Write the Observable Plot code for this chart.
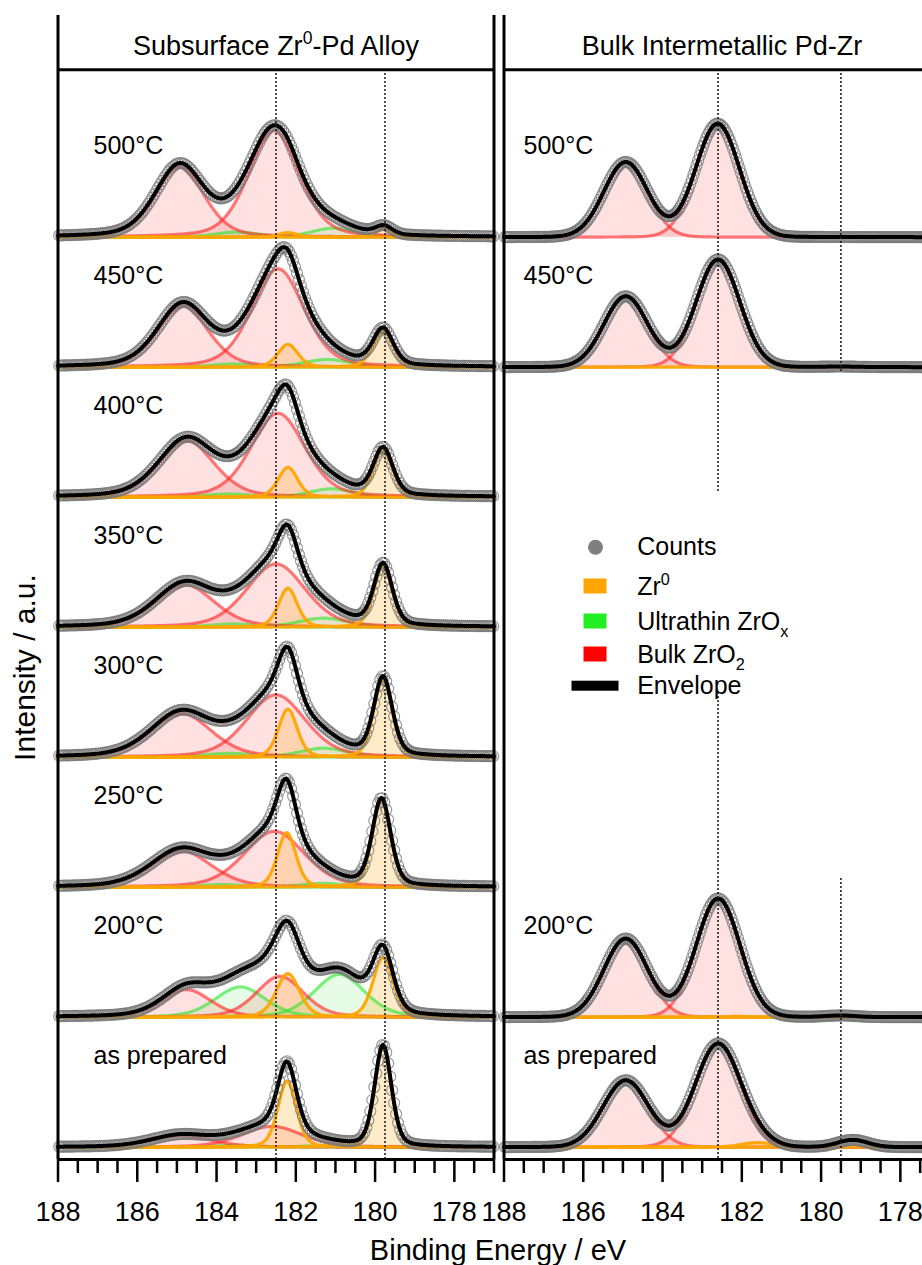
<!DOCTYPE html>
<html><head><meta charset="utf-8">
<script src="https://cdn.jsdelivr.net/npm/d3@7"></script>
<script src="https://cdn.jsdelivr.net/npm/@observablehq/plot@0.6"></script>
<style>
html,body{margin:0;padding:0;background:#fff;overflow:hidden;}
#chart{width:922px;height:1265px;overflow:hidden;}
</style></head><body><div id="chart"></div>
<script>
// ---------------- DATA ----------------
const panels = ["Subsurface Zr^{0}-Pd Alloy", "Bulk Intermetallic Pd-Zr"];
const rowLabels = ["500°C","450°C","400°C","350°C","300°C","250°C","200°C","as prepared"];
const rightRows = ["500°C","450°C","200°C","as prepared"];
const legendLabels = ["Counts","Zr^{0}","Ultrathin ZrO_{x}","Bulk ZrO_{2}","Envelope"];
const xTicks = [188,186,184,182,180,178];
const xDomain = [188,177];
const leftRefLines = [182.5, 179.75];
const rightRefLines = [182.6, 179.5];
const yLabel = "Intensity / a.u.";
const xLabel = "Binding Energy / eV";

// fitted components: [row, component, centre (eV), height (a.u.), FWHM (eV)]
const leftPeaks = [
 ["500°C","ZrO2",184.93,0.544,1.45],
 ["500°C","ZrO2",182.55,0.82,1.5],
 ["500°C","ZrOx",183.5,0.04,1.3],
 ["500°C","ZrOx",181.05,0.07,1.3],
 ["500°C","Zr0",182.2,0.035,0.55],
 ["500°C","Zr0",179.78,0.065,0.5],
 ["450°C","ZrO2",184.85,0.475,1.5],
 ["450°C","ZrO2",182.45,0.757,1.55],
 ["450°C","ZrOx",183.6,0.025,1.3],
 ["450°C","ZrOx",181.2,0.06,1.4],
 ["450°C","Zr0",182.2,0.175,0.6],
 ["450°C","Zr0",179.8,0.277,0.6],
 ["400°C","ZrO2",184.76,0.436,1.65],
 ["400°C","ZrO2",182.45,0.646,1.6],
 ["400°C","ZrOx",183.7,0.025,1.3],
 ["400°C","ZrOx",181.1,0.065,1.3],
 ["400°C","Zr0",182.2,0.23,0.58],
 ["400°C","Zr0",179.8,0.36,0.58],
 ["350°C","ZrO2",184.8,0.328,1.75],
 ["350°C","ZrO2",182.5,0.487,1.75],
 ["350°C","ZrOx",183.6,0.025,1.4],
 ["350°C","ZrOx",181.3,0.07,1.5],
 ["350°C","Zr0",182.2,0.30,0.56],
 ["350°C","Zr0",179.8,0.47,0.55],
 ["300°C","ZrO2",184.89,0.338,1.8],
 ["300°C","ZrO2",182.5,0.48,1.75],
 ["300°C","ZrOx",183.7,0.03,1.4],
 ["300°C","ZrOx",181.3,0.07,1.4],
 ["300°C","Zr0",182.2,0.37,0.56],
 ["300°C","Zr0",179.8,0.60,0.55],
 ["250°C","ZrO2",184.89,0.28,1.8],
 ["250°C","ZrO2",182.54,0.43,1.8],
 ["250°C","ZrOx",183.85,0.02,1.3],
 ["250°C","ZrOx",181.3,0.03,1.3],
 ["250°C","Zr0",182.23,0.42,0.55],
 ["250°C","Zr0",179.84,0.667,0.55],
 ["200°C","ZrO2",184.76,0.213,1.45],
 ["200°C","ZrOx",183.4,0.233,1.5],
 ["200°C","ZrO2",182.4,0.315,1.4],
 ["200°C","Zr0",182.2,0.336,0.7],
 ["200°C","ZrOx",180.9,0.33,1.5],
 ["200°C","Zr0",179.8,0.46,0.6],
 ["as prepared","ZrO2",184.89,0.09,1.8],
 ["as prepared","ZrO2",182.6,0.16,1.8],
 ["as prepared","ZrOx",183.5,0.015,1.3],
 ["as prepared","ZrOx",181.2,0.015,1.3],
 ["as prepared","Zr0",182.22,0.51,0.55],
 ["as prepared","Zr0",179.8,0.78,0.5]
];
const rightPeaks = [
 ["500°C","ZrO2",184.93,0.577,1.3],
 ["500°C","ZrO2",182.61,0.872,1.3],
 ["450°C","ZrO2",184.93,0.544,1.3],
 ["450°C","ZrO2",182.6,0.828,1.3],
 ["450°C","Zr0",179.5,0.004,1.0],
 ["200°C","ZrO2",184.93,0.603,1.3],
 ["200°C","ZrO2",182.6,0.91,1.3],
 ["200°C","Zr0",182.1,0.006,0.9],
 ["200°C","Zr0",179.5,0.012,0.9],
 ["as prepared","ZrO2",184.93,0.513,1.35],
 ["as prepared","ZrO2",182.6,0.795,1.35],
 ["as prepared","Zr0",181.6,0.035,1.0],
 ["as prepared","Zr0",179.2,0.055,0.9]
];

// ---------------- LAYOUT ----------------
const W = 922, H = 1265;
const mL = 57.5, mT = 15, mB = 106, gap = 10, bw = 436;
const mR = W - (mL + 2 * bw + gap);
const base0 = 1146.7, rowPx = 130;                  // pixel baseline of bottom row, pixels per unit
const yAt = px => (base0 - px) / rowPx;
const yDomain = [yAt(H - mB), yAt(mT)];
const bandStart = i => mL + i * (bw + gap);
const xAt = (px, i) => xDomain[0] - (px - bandStart(i)) / bw * (xDomain[0] - xDomain[1]);
const offsetOf = r => rowLabels.length - 1 - rowLabels.indexOf(r);

const style = {
  Zr0:  {color: "#ffa500", fo: 0.22, so: 0.95},
  ZrOx: {color: "#2ee62e", fo: 0.12, so: 0.6},
  ZrO2: {color: "#ff2a2a", fo: 0.14, so: 0.62}
};

function profile(x, c, w, m) {
  const u = (x - c) / w;
  return (1 - m) * Math.exp(-4 * Math.LN2 * u * u) + m / (1 + 4 * u * u);
}

const grid = d3.range(177, 188.0001, 0.04);
const specs = [
  {panel: panels[0], rows: rowLabels, peaks: leftPeaks, mix: 0.3, step: 0.05},
  {panel: panels[1], rows: rightRows, peaks: rightPeaks, mix: 0.03, step: 0.04}
];
const compPts = [], envPts = [], countPts = [];
for (const s of specs) {
  for (const row of s.rows) {
    const base = offsetOf(row);
    const pk = s.peaks.filter(p => p[0] === row);
    const sum = x => pk.reduce((a, p) => a + p[3] * profile(x, p[2], p[4], s.mix), 0);
    pk.forEach((p, k) => {
      for (const x of grid) compPts.push({panel: s.panel, id: s.panel + row + k, comp: p[1], x, base, y: base + p[3] * profile(x, p[2], p[4], s.mix)});
    });
    for (const x of grid) envPts.push({panel: s.panel, id: s.panel + row, x, y: base + sum(x)});
    for (const x of d3.range(177.02, 188, s.step)) countPts.push({panel: s.panel, x, y: base + sum(x)});
  }
}

const minorTicks = d3.range(177, 188.001, 0.5).filter(v => !xTicks.includes(v));

const refSegs = [
  ...leftRefLines.map(x => ({panel: panels[0], x, y1: yAt(69), y2: yDomain[0]})),
  {panel: panels[1], x: rightRefLines[0], y1: yAt(69), y2: yAt(492)},
  {panel: panels[1], x: rightRefLines[0], y1: yAt(692), y2: yDomain[0]},
  {panel: panels[1], x: rightRefLines[1], y1: yAt(69), y2: yAt(372)},
  {panel: panels[1], x: rightRefLines[1], y1: yAt(878), y2: yDomain[0]}
];

const rowText = [
  ...rowLabels.map(r => ({panel: panels[0], row: r, x: xAt(93, 0)})),
  ...rightRows.map(r => ({panel: panels[1], row: r, x: xAt(523, 1)}))
];

const legendY = [546.7, 586, 621, 654, 685.7];
const legendColors = [null, style.Zr0.color, "#22ee22", "#ff0000", "#000"];

const marks = [];
// fills
for (const c of ["ZrO2", "ZrOx", "Zr0"]) {
  marks.push(Plot.areaY(compPts.filter(d => d.comp === c), {fx: "panel", x: "x", y1: "base", y2: "y", z: "id", fill: style[c].color, fillOpacity: style[c].fo}));
}
// component lines
for (const c of ["ZrOx", "ZrO2", "Zr0"]) {
  marks.push(Plot.lineY(compPts.filter(d => d.comp === c), {fx: "panel", x: "x", y: "y", z: "id", stroke: style[c].color, strokeOpacity: style[c].so, strokeWidth: 3.2}));
}
// counts
marks.push(Plot.dot(countPts, {fx: "panel", x: "x", y: "y", r: 5.5, stroke: "#7a7a7a", strokeWidth: 1.2, strokeOpacity: 0.75, fill: "none"}));
// envelope
marks.push(Plot.lineY(envPts, {fx: "panel", x: "x", y: "y", z: "id", stroke: "#000", strokeWidth: 4}));
// reference dotted lines
marks.push(Plot.ruleX(refSegs, {fx: "panel", x: "x", y1: "y1", y2: "y2", stroke: "#222", strokeWidth: 1.6, strokeDasharray: "2,2"}));
// frames
marks.push(Plot.ruleX(xDomain, {stroke: "#000", strokeWidth: 3}));
marks.push(Plot.ruleY([yAt(69.3)], {stroke: "#000", strokeWidth: 3}));
marks.push(Plot.ruleY([yDomain[0]], {stroke: "#000", strokeWidth: 3}));
// axes
marks.push(Plot.axisX({ticks: xTicks, tickSize: 23, tickPadding: 19, fontSize: 27, strokeWidth: 2.5, label: null, tickFormat: d => String(d)}));
marks.push(Plot.axisX({ticks: minorTicks, tickSize: 14, strokeWidth: 2.5, label: null, tickFormat: () => ""}));
// titles and labels
marks.push(Plot.text(panels.map(p => ({panel: p})), {fx: "panel", x: 182.5, y: yAt(46), text: "panel", fontSize: 27}));
marks.push(Plot.text(rowText, {fx: "panel", x: "x", y: d => offsetOf(d.row) + 0.705, text: "row", textAnchor: "start", fontSize: 25}));
marks.push(Plot.text([{panel: panels[0], t: xLabel}], {fx: "panel", x: xDomain[1], dx: 4, y: yAt(1239), text: "t", lineAnchor: "top", fontSize: 29}));
marks.push(Plot.text([{panel: panels[0], t: yLabel}], {fx: "panel", x: xDomain[0], dx: -32.5, y: yAt(667), text: "t", rotate: -90, fontSize: 30}));
// legend
marks.push(Plot.dot([{panel: panels[1]}], {fx: "panel", x: xAt(595, 1), y: yAt(legendY[0]), r: 7.5, fill: "#7f7f7f"}));
for (let i = 1; i <= 3; i++) {
  marks.push(Plot.rect([{panel: panels[1]}], {fx: "panel", x1: xAt(583.5, 1), x2: xAt(606.5, 1), y1: yAt(legendY[i] + 7.5), y2: yAt(legendY[i] - 7.5), fill: legendColors[i]}));
}
marks.push(Plot.rect([{panel: panels[1]}], {fx: "panel", x1: xAt(571.5, 1), x2: xAt(618.5, 1), y1: yAt(legendY[4] + 5), y2: yAt(legendY[4] - 5), fill: "#000"}));
marks.push(Plot.text(legendLabels.map((l, i) => ({panel: panels[1], l, cy: legendY[i]})), {fx: "panel", x: xAt(636.7, 1), y: d => yAt(d.cy), text: "l", textAnchor: "start", fontSize: 25}));

const chart = Plot.plot({
  width: W, height: H,
  marginLeft: mL, marginRight: mR, marginTop: mT, marginBottom: mB,
  style: {fontFamily: "'Liberation Sans', Arial, sans-serif", background: "#fff", color: "#000", overflow: "hidden"},
  fx: {domain: panels, axis: null, paddingInner: gap / (bw + gap), paddingOuter: 0, round: false},
  x: {domain: xDomain},
  y: {domain: yDomain, axis: null},
  marks
});
document.getElementById("chart").appendChild(chart);

// rich text: ^{..} superscript, _{..} subscript
chart.querySelectorAll("text").forEach(t => {
  const s = t.textContent;
  if (!/[\^_]\{/.test(s)) return;
  const fs = parseFloat(getComputedStyle(t).fontSize) || 25;
  const parts = s.split(/(\^\{[^}]*\}|_\{[^}]*\})/).filter(p => p);
  while (t.firstChild) t.removeChild(t.firstChild);
  let shift = 0;
  for (const p of parts) {
    const ts = document.createElementNS("http://www.w3.org/2000/svg", "tspan");
    let target = 0;
    if (p.startsWith("^{")) { ts.textContent = p.slice(2, -1); ts.setAttribute("font-size", (fs * 0.65) + "px"); target = -0.4 * fs; }
    else if (p.startsWith("_{")) { ts.textContent = p.slice(2, -1); ts.setAttribute("font-size", (fs * 0.65) + "px"); target = 0.3 * fs; }
    else ts.textContent = p;
    if (target !== shift) { ts.setAttribute("dy", target - shift); shift = target; }
    t.appendChild(ts);
  }
});
</script>
</body></html>
